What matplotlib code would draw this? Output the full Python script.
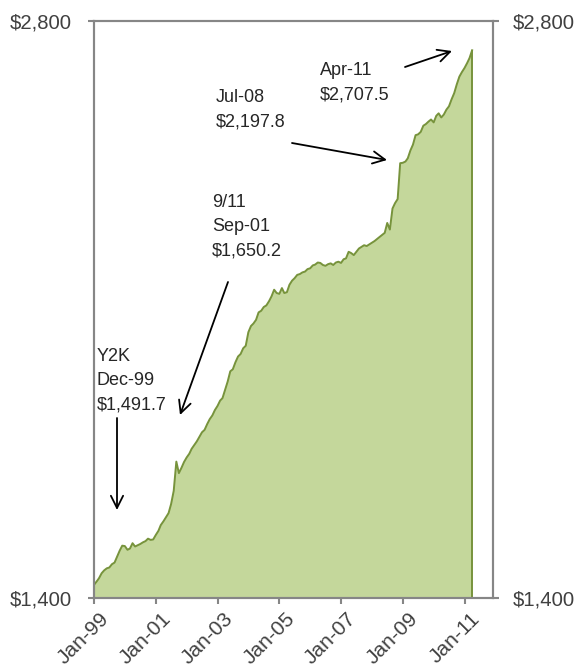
import matplotlib
matplotlib.use("Agg")
import matplotlib.pyplot as plt
import matplotlib.dates as mdates
import matplotlib.transforms as mtransforms
import pandas as pd

plt.rcParams["font.family"] = ["Liberation Sans", "DejaVu Sans"]

FILL = "#C4D79B"
LINE = "#77933C"
SPINE = "#868686"
TEXT = "#404040"

START = "1999-01-01"
values = [
    1432, 1440, 1448, 1460, 1467, 1472, 1474, 1482, 1486, 1500, 1515, 1527,
    1526, 1517, 1520, 1533, 1525, 1528, 1531, 1535, 1538, 1544, 1541, 1542,
    1553, 1563, 1577, 1586, 1596, 1606, 1628, 1660, 1731, 1703, 1716, 1730,
    1741, 1750, 1762, 1771, 1780, 1791, 1802, 1808, 1822, 1834, 1843, 1856,
    1866, 1879, 1885, 1905, 1925, 1950, 1955, 1972, 1986, 1992, 2006, 2012,
    2045, 2060, 2066, 2075, 2093, 2097, 2106, 2110, 2120, 2132, 2148, 2140,
    2138, 2152, 2140, 2142, 2160, 2170, 2176, 2184, 2186, 2190, 2192, 2198,
    2200, 2207, 2209, 2214, 2213, 2208, 2206, 2210, 2212, 2208, 2214, 2216,
    2213, 2222, 2224, 2240, 2237, 2232, 2240, 2248, 2252, 2256, 2254, 2258,
    2262, 2266, 2271, 2276, 2281, 2286, 2310, 2294, 2345, 2358, 2368, 2455,
    2456, 2459, 2467, 2486, 2500, 2523, 2525, 2531, 2546, 2550, 2556, 2561,
    2554, 2570, 2576, 2566, 2573, 2585, 2593, 2610, 2625, 2646, 2665, 2676,
    2686, 2698, 2710, 2729,
]
dates = pd.date_range(START, periods=len(values), freq="MS")

y_ticks = [1400, 2800]
x_tick_years = [1999, 2001, 2003, 2005, 2007, 2009, 2011]

# (text, text top-left px, arrow tail px, arrow head px)
notes = [
    ("Y2K\nDec-99\n$1,491.7", (97, 348), (117, 418), (117, 510)),
    ("9/11\nSep-01\n$1,650.2", (212, 194), (228, 282), (180, 415)),
    ("Jul-08\n$2,197.8", (216, 89), (292, 143), (387, 160)),
    ("Apr-11\n$2,707.5", (320, 62), (405, 67), (452, 51)),
]

W, H = 580, 668
L, R, T, B = 94, 493, 21, 598


def frac(px, py):
    """Пиксели картинки -> доли осей."""
    return (px - L) / (R - L), (B - py) / (B - T)


def money(v, _):
    return f"${v:,.0f}"


fig = plt.figure(figsize=(W / 100, H / 100), dpi=100)
ax = fig.add_axes([L / W, 1 - B / H, (R - L) / W, (B - T) / H])

ax.fill_between(dates, values, y_ticks[0], color=FILL, edgecolor="none", zorder=1)
ax.plot(dates, values, color=LINE, linewidth=1.4, zorder=2)
ax.vlines(dates[-1], y_ticks[0], values[-1], color=LINE, linewidth=1.4, zorder=2)

ax.set_ylim(y_ticks[0], y_ticks[-1])
ax.set_xlim(pd.Timestamp(START), pd.Timestamp("2011-12-04"))
ax.set_yticks(y_ticks)
ax.yaxis.set_major_formatter(plt.FuncFormatter(money))
ax.set_xticks([pd.Timestamp(f"{y}-01-01") for y in x_tick_years])
ax.xaxis.set_major_formatter(mdates.DateFormatter("%b-%y"))

ax2 = ax.twinx()
ax2.set_ylim(ax.get_ylim())
ax2.set_yticks(y_ticks)
ax2.yaxis.set_major_formatter(plt.FuncFormatter(money))

for axis in (ax, ax2):
    for spine in axis.spines.values():
        spine.set_color(SPINE)
        spine.set_linewidth(1.5)
    axis.tick_params(colors=SPINE, labelcolor=TEXT, labelsize=14.6,
                     length=4.5, width=1.5)
ax.tick_params(axis="y", pad=11.5)
ax2.tick_params(axis="y", pad=9.5)
ax.tick_params(axis="x", labelsize=15, length=4, pad=4)

shift = mtransforms.ScaledTranslation(4 / 72, 0, fig.dpi_scale_trans)
for label in ax.get_xticklabels():
    label.set_rotation(45)
    label.set_ha("right")
    label.set_rotation_mode("anchor")
    label.set_transform(label.get_transform() + shift)

for text, (tx, ty), tail, head in notes:
    ax.text(*frac(tx, ty), text, transform=ax.transAxes, ha="left", va="top",
            fontsize=13, color="#262626", linespacing=1.55)
    ax.annotate("", xy=frac(*head), xytext=frac(*tail),
                xycoords="axes fraction", textcoords="axes fraction",
                arrowprops=dict(arrowstyle="->", color="black", lw=1.3,
                                mutation_scale=22, shrinkA=0, shrinkB=0))

fig.savefig("out.png", dpi=100)
